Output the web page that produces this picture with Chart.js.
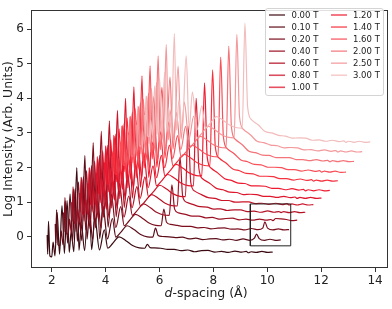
<!DOCTYPE html>
<html><head><meta charset="utf-8">
<script src="https://cdn.jsdelivr.net/npm/chart.js@4.4.1/dist/chart.umd.min.js"></script>
<style>html,body{margin:0;padding:0;background:#fff}#wrap{width:392px;height:309px;position:relative}</style>
</head><body><div id="wrap"><canvas id="c"></canvas></div>
<script>
// ---- data ----
const fields = ['0.00 T','0.10 T','0.20 T','0.40 T','0.60 T','0.80 T','1.00 T','1.20 T','1.40 T','1.60 T','2.00 T','2.50 T','3.00 T'];
const xTickValues = [2,4,6,8,10,12,14];
const yTickValues = [0,1,2,3,4,5,6];
// d-spacing grid of the 0.00 T pattern (Å)
const dGrid = [1.83,1.85,1.88,1.93,2.00,2.05,2.12,2.20,2.29,2.38,2.47,2.57,2.65,2.72,2.82,2.93,3.01,3.10,3.22,3.37,3.48,3.60,3.77,3.95,4.08,
  4.25,4.50,4.75,5.00,5.25,5.45,
  5.55,5.65,5.80,6.05,
  6.30,6.55,6.80,7.05,7.30,7.55,7.80,8.05,8.30,8.55,8.80,9.05,9.22,9.30,9.40,9.60,9.80,10.00,10.20];
// horizontal waterfall offset of each pattern (Å)
const xShift = [0,0.30,0.61,0.91,1.21,1.51,1.81,2.12,2.42,2.72,3.02,3.32,3.62];
// log intensity (with vertical waterfall offset) per field
const i000 = [0.05,-0.50,0.45,-0.55,-0.58,-0.15,-0.55,0.70,-0.50,0.90,-0.48,1.05,-0.45,0.15,-0.43,2.00,-0.39,0.35,-0.40,1.45,-0.37,0.55,-0.38,0.20,-0.33,
  -0.20,0.00,-0.11,-0.25,-0.32,-0.33, -0.22,-0.31,-0.32,-0.33,
  -0.36,-0.36,-0.40,-0.38,-0.43,-0.40,-0.39,-0.44,-0.42,-0.45,-0.41,-0.44,-0.42,-0.46,-0.43,-0.45,-0.42,-0.45,-0.44];
const i010 = [0.37,-0.18,0.78,-0.23,-0.26,0.17,-0.23,1.03,-0.18,1.24,-0.16,1.39,-0.13,0.48,-0.11,2.35,-0.07,0.68,-0.08,1.79,-0.05,0.88,-0.06,0.53,-0.01,
  0.12,0.32,0.21,0.07,0.00,-0.01, 0.25,0.04,0.01,0.00,
  -0.02,-0.01,-0.06,-0.04,-0.08,-0.06,-0.05,-0.09,-0.07,-0.10,-0.06,-0.10,-0.04,0.08,-0.05,-0.10,-0.07,-0.10,-0.09];
const i020 = [0.70,0.15,1.13,0.10,0.07,0.51,0.10,1.38,0.15,1.59,0.17,1.74,0.20,0.82,0.22,2.72,0.26,1.02,0.25,2.16,0.28,1.23,0.27,0.87,0.32,
  0.45,0.65,0.54,0.40,0.33,0.32, 0.80,0.42,0.36,0.33,
  0.30,0.30,0.26,0.27,0.23,0.25,0.26,0.22,0.23,0.20,0.24,0.21,0.25,0.43,0.25,0.20,0.23,0.20,0.21];
const i040 = [1.00,0.45,1.44,0.40,0.37,0.81,0.40,1.70,0.45,1.91,0.47,2.06,0.50,1.12,0.52,3.05,0.56,1.33,0.55,2.48,0.58,1.54,0.57,1.18,0.62,
  0.75,0.95,0.84,0.70,0.63,0.62, 1.50,0.80,0.69,0.65,
  0.60,0.60,0.55,0.56,0.51,0.53,0.54,0.49,0.51,0.48,0.51,0.48,0.50,0.47,0.53,0.52,0.50,0.47,0.48];
const i060 = [1.27,0.72,1.72,0.67,0.64,1.09,0.67,1.98,0.72,2.19,0.74,2.35,0.77,1.40,0.79,3.35,0.83,1.61,0.82,2.77,0.85,1.82,0.84,1.45,0.89,
  1.02,1.22,1.11,0.97,0.90,0.89, 2.30,1.17,1.00,0.93,
  0.87,0.86,0.80,0.81,0.76,0.78,0.78,0.73,0.74,0.71,0.75,0.71,0.73,0.70,0.73,0.70,0.73,0.70,0.71];
const i080 = [1.54,0.99,2.00,0.94,0.91,1.36,0.94,2.26,0.99,2.48,1.01,2.64,1.04,1.68,1.06,3.65,1.10,1.89,1.09,3.06,1.12,2.11,1.11,1.73,1.16,
  1.29,1.49,1.38,1.24,1.17,1.16, 3.20,1.57,1.32,1.22,
  1.13,1.11,1.05,1.05,1.00,1.01,1.01,0.96,0.97,0.94,0.97,0.93,0.96,0.92,0.95,0.92,0.95,0.92,0.93];
const i100 = [1.85,1.30,2.32,1.25,1.22,1.67,1.25,2.59,1.30,2.81,1.32,2.97,1.35,2.00,1.37,4.00,1.41,2.22,1.40,3.41,1.43,2.43,1.42,2.05,1.47,
  1.60,1.80,1.69,1.55,1.48,1.47, 4.00,1.98,1.67,1.55,
  1.40,1.36,1.29,1.28,1.22,1.23,1.22,1.17,1.17,1.14,1.17,1.13,1.15,1.11,1.14,1.11,1.14,1.11,1.12];
const i120 = [2.14,1.59,2.63,1.54,1.51,1.97,1.54,2.90,1.59,3.12,1.61,3.29,1.64,2.30,1.66,4.33,1.70,2.52,1.69,3.73,1.72,2.74,1.71,2.35,1.76,
  1.89,2.09,1.98,1.84,1.77,1.76, 4.45,2.30,1.98,1.84,
  1.68,1.63,1.55,1.54,1.47,1.47,1.46,1.40,1.40,1.36,1.39,1.35,1.37,1.33,1.36,1.33,1.36,1.33,1.34];
const i140 = [2.43,1.88,2.93,1.83,1.80,2.26,1.83,3.21,1.88,3.43,1.90,3.60,1.93,2.60,1.95,4.65,1.99,2.82,1.98,4.04,2.01,3.04,2.00,2.65,2.05,
  2.18,2.38,2.27,2.13,2.06,2.05, 4.82,2.60,2.27,2.13,
  1.96,1.91,1.83,1.82,1.75,1.75,1.74,1.68,1.68,1.64,1.67,1.63,1.65,1.61,1.64,1.61,1.64,1.61,1.62];
const i160 = [2.69,2.14,3.20,2.09,2.06,2.53,2.09,3.48,2.14,3.70,2.16,3.87,2.19,2.86,2.21,4.94,2.25,3.09,2.24,4.32,2.27,3.31,2.26,2.92,2.31,
  2.44,2.64,2.53,2.39,2.32,2.31, 5.19,2.89,2.54,2.40,
  2.22,2.17,2.09,2.08,2.01,2.01,2.00,1.94,1.94,1.90,1.93,1.89,1.91,1.87,1.90,1.87,1.90,1.86,1.87];
const i200 = [2.95,2.40,3.47,2.35,2.32,2.79,2.35,3.76,2.40,3.98,2.42,4.15,2.45,3.13,2.47,5.23,2.51,3.36,2.50,4.61,2.53,3.59,2.52,3.19,2.57,
  2.70,2.90,2.79,2.65,2.58,2.57, 5.51,3.16,2.81,2.66,
  2.47,2.43,2.36,2.35,2.29,2.29,2.29,2.23,2.23,2.20,2.23,2.19,2.21,2.17,2.20,2.17,2.20,2.17,2.18];
const i250 = [3.24,2.69,3.77,2.64,2.61,3.08,2.64,4.06,2.69,4.29,2.71,4.46,2.74,3.43,2.76,5.55,2.80,3.66,2.79,4.92,2.82,3.89,2.81,3.49,2.86,
  2.99,3.19,3.08,2.94,2.87,2.86, 5.85,3.46,3.10,2.95,
  2.76,2.72,2.65,2.63,2.57,2.58,2.57,2.51,2.52,2.48,2.51,2.47,2.49,2.45,2.48,2.45,2.48,2.45,2.46];
const i300 = [3.52,2.97,4.07,2.92,2.89,3.37,2.92,4.36,2.97,4.59,2.99,4.76,3.02,3.72,3.04,5.87,3.08,3.95,3.07,5.23,3.10,4.18,3.09,3.78,3.14,
  3.27,3.47,3.36,3.22,3.15,3.14, 6.17,3.75,3.38,3.23,
  3.04,3.00,2.93,2.91,2.85,2.86,2.85,2.79,2.80,2.76,2.79,2.75,2.77,2.73,2.76,2.73,2.76,2.73,2.74];
const seriesValues = [i000,i010,i020,i040,i060,i080,i100,i120,i140,i160,i200,i250,i300];
// inset rectangle (Å, log units)
const insetX = [9.37, 10.87];
const insetY = [-0.26, 0.95];

// ---- styling ----
const colors = ['#3c0b12','#5c0d18','#7c0f1e','#9a1022','#b51226','#cc1429','#de162c','#ee1b30','#f5323f','#f75059','#f47479','#f3989b','#f2bcbc'];
const FONT = '"DejaVu Sans", sans-serif';

const datasets = seriesValues.map((vals, i) => ({
  label: fields[i],
  data: dGrid.map((d, k) => ({x: +(d + xShift[i]).toFixed(3), y: vals[k]})),
  borderColor: colors[i],
  borderWidth: 1.2,
  showLine: true,
  pointRadius: 0,
  cubicInterpolationMode: 'monotone',
  order: 12 - i
}));
datasets.push({
  label: 'inset',
  data: [{x:insetX[0],y:insetY[0]},{x:insetX[1],y:insetY[0]},{x:insetX[1],y:insetY[1]},{x:insetX[0],y:insetY[1]},{x:insetX[0],y:insetY[0]}],
  borderColor: '#222', borderWidth: 1, showLine: true, pointRadius: 0, order: -1
});

const decor = {
  id: 'decor',
  afterDraw(chart) {
    const ctx = chart.ctx, ca = chart.chartArea;
    ctx.save();
    // frame
    ctx.strokeStyle = '#333'; ctx.lineWidth = 1;
    ctx.strokeRect(Math.round(ca.left) + 0.5, Math.round(ca.top) + 0.5, Math.round(ca.right - ca.left) - 1, Math.round(ca.bottom - ca.top) - 1);
    // x title with italic d
    ctx.fillStyle = '#222'; ctx.textBaseline = 'middle';
    ctx.font = 'italic 12.5px ' + FONT; const w1 = ctx.measureText('d').width;
    ctx.font = '12.5px ' + FONT; const w2 = ctx.measureText('-spacing (Å)').width;
    const x0 = 206 - (w1 + w2) / 2;
    ctx.font = 'italic 12.5px ' + FONT; ctx.fillText('d', x0, 294);
    ctx.font = '12.5px ' + FONT; ctx.fillText('-spacing (Å)', x0 + w1, 294);
    // legend
    const L = {x: 265.5, y: 8.5, w: 118, h: 87};
    ctx.beginPath();
    ctx.roundRect(L.x, L.y, L.w, L.h, 2.5);
    ctx.fillStyle = 'rgba(255,255,255,0.85)'; ctx.fill();
    ctx.strokeStyle = '#d4d4d4'; ctx.lineWidth = 1; ctx.stroke();
    ctx.font = '8.5px ' + FONT; ctx.textBaseline = 'middle';
    chart.data.datasets.slice(0, fields.length).forEach((ds, i) => {
      const col = i < 7 ? 0 : 1, row = i < 7 ? i : i - 7;
      const y = 15 + row * 12.05;
      const hx = col === 0 ? 269 : 331;
      const tx = col === 0 ? 291.5 : 353;
      ctx.globalAlpha = 0.75;
      ctx.strokeStyle = ds.borderColor; ctx.lineWidth = 1.6;
      ctx.beginPath(); ctx.moveTo(hx, y); ctx.lineTo(hx + 16, y); ctx.stroke();
      ctx.globalAlpha = 1;
      ctx.fillStyle = '#222'; ctx.fillText(ds.label, tx, y + 0.5);
    });
    ctx.restore();
  }
};

new Chart(document.getElementById('c'), {
  type: 'scatter',
  data: {datasets},
  options: {
    responsive: true, maintainAspectRatio: false, animation: false, events: [],
    layout: {padding: {left: 0, top: 3, right: 4, bottom: 0}},
    plugins: {legend: {display: false}, tooltip: {enabled: false}},
    scales: {
      x: {
        type: 'linear', min: 1.23, max: 14.48,
        afterFit(s) { s.height = 41; },
        afterBuildTicks(s) { s.ticks = xTickValues.map(v => ({value: v})); },
        border: {display: false},
        grid: {drawOnChartArea: false, drawTicks: true, tickLength: 4, color: '#333'},
        ticks: {font: {family: FONT, size: 12}, color: '#222', padding: 2, maxRotation: 0}
      },
      y: {
        type: 'linear', min: -0.9, max: 6.545,
        afterFit(s) { s.width = 31; },
        afterBuildTicks(s) { s.ticks = yTickValues.map(v => ({value: v})); },
        border: {display: false},
        grid: {drawOnChartArea: false, drawTicks: true, tickLength: 4, color: '#333'},
        ticks: {font: {family: FONT, size: 12}, color: '#222', padding: 3},
        title: {display: true, text: 'Log Intensity (Arb. Units)', font: {family: FONT, size: 12.5}, color: '#222', padding: {top: 1.5, bottom: 0}}
      }
    }
  },
  plugins: [decor]
});
</script></body></html>
